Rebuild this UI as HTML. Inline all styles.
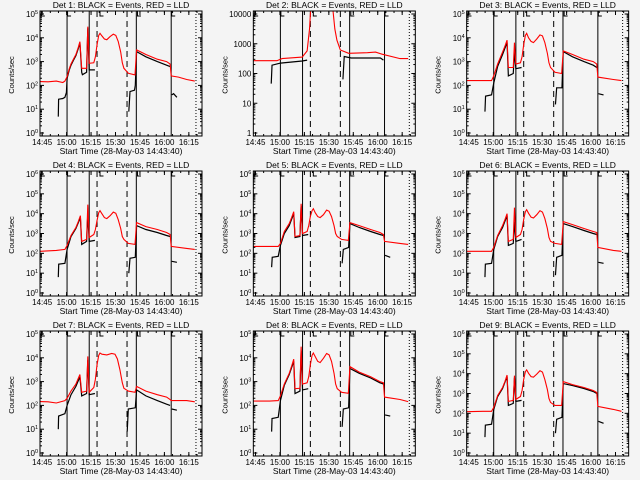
<!DOCTYPE html>
<html><head><meta charset="utf-8"><style>
html,body{margin:0;padding:0;background:#f4f4f4;}
svg{display:block;font-family:"Liberation Sans",sans-serif;}
</style></head><body>
<svg id="c" width="640" height="480" viewBox="0 0 640 480"></svg>
<script>
// time in minutes since 14:43:40, values as log10(counts/sec)
const xTickLabels = ["14:45","15:00","15:15","15:30","15:45","16:00","16:15"];
const xTickTimes = [1.33,16.33,31.33,46.33,61.33,76.33,91.33];
const solidLines = [16.6,30.2,59.1,80.5];
const dashedLines = [35.0,53.4];
const dottedLines = [95.7];
const flagTimes = [0.5,16.6,36.5,59.5,80.5];
const decades = [5,4,5,6,6,6,5,5,6];
const det1Red = [[0,2.16],[5,2.15],[10,2.18],[14,2.12],[15.3,2.18],[16.6,2.37],[18,2.7],[19,2.9],[20.5,3.1],[22,3.3],[23.5,3.6],[24.5,3.84],[25.6,2.72],[28.6,2.72],[29.3,4.47],[30.2,2.93],[33,2.95],[34,3.2],[35,3.7],[36,4.1],[36.8,4.19],[38,4.08],[39.5,3.95],[41,3.92],[43,4.05],[45,4.15],[46.5,4.1],[48,3.85],[49.5,3.4],[50.5,2.95],[51.5,2.72],[54.2,2.51],[58.3,2.44],[59.3,3.49],[65,3.3],[72,3.1],[77.7,3.0],[79.8,2.9],[80.5,2.4],[85,2.35],[90,2.25],[95,2.18]];
const det1Black = [[[11.2,0.69],[11.4,1.42],[14,1.45],[15.3,1.5],[16.2,1.7],[16.6,2.3],[18,2.65],[19,2.85],[20.5,3.05],[22,3.25],[23.5,3.55],[24.5,3.8],[25.6,2.55],[26,2.45],[28.6,2.55],[29.3,4.4],[30.2,2.65],[33.7,2.65]],[[54.5,0.9],[55.2,1.74],[58,1.8],[58.5,2.0],[59.3,3.42],[65,3.2],[72,3.0],[77.7,2.85],[79.8,2.79]],[[80.8,1.6],[82,1.65],[84,1.5]]];
const det2Red = [[0,2.43],[14.5,2.43],[17.6,2.5],[30,2.55],[33,2.76],[34.5,3.5],[35.2,4.2],[48.7,4.2],[50,3.5],[51.3,3.12],[53.4,2.79],[58.5,2.68],[70,2.7],[75,2.72],[79,2.65],[90,2.5],[95,2.5]];
const det2Black = [[[11,1.66],[11.5,2.28],[16.6,2.35],[30,2.42],[33,2.45]],[[55,1.8],[55.8,2.57],[60,2.52],[78,2.52],[79.8,2.45]]];
const det3Red = [[0,2.2],[10,2.2],[15.3,2.2],[16.6,2.4],[19,2.9],[22,3.4],[23.5,3.65],[24.8,3.9],[25.6,2.75],[28.6,2.75],[29.3,3.8],[30.2,2.9],[33,2.95],[34,3.2],[35,3.7],[36,4.1],[36.8,4.19],[38,4.0],[39.5,3.85],[41,3.8],[43,3.95],[45,4.12],[46.5,4.08],[48,3.8],[49.5,3.35],[50.5,2.95],[51.5,2.75],[54.2,2.55],[58.3,2.5],[59.3,3.45],[65,3.3],[72,3.1],[77.7,3.0],[79.8,2.9],[80.5,2.35],[90,2.25],[95,2.2]];
const det3Black = [[[11.2,0.9],[11.6,1.55],[15.3,1.6],[16.6,2.1],[19,2.8],[22,3.3],[24.8,3.8],[25.6,2.4],[28.6,2.5],[29.3,3.4],[30.2,2.7],[33.7,2.75]],[[54.5,1.2],[55.2,1.9],[58.5,1.9],[59.3,3.42],[65,3.2],[72,3.0],[77.7,2.85],[79.8,2.75]],[[80.8,1.65],[84,1.6]]];
const det4Red = [[0,2.1],[10,2.15],[15.3,2.2],[16.6,2.4],[19,2.9],[22,3.3],[23.5,3.6],[24.8,3.9],[25.6,2.6],[28.6,2.7],[29.3,4.45],[30.2,2.8],[33,2.95],[34,3.2],[35,3.65],[36,4.05],[36.8,4.15],[38,4.0],[39.5,3.8],[41,3.75],[43,3.9],[45,4.08],[46.5,4.02],[48,3.7],[49.5,3.25],[50.5,2.85],[51.5,2.7],[54.2,2.5],[58.3,2.45],[59.3,3.55],[65,3.35],[72,3.2],[77.7,3.05],[79.8,2.95],[80.5,2.35],[90,2.25],[95,2.2]];
const det4Black = [[[11.2,0.8],[11.5,1.45],[15.3,1.5],[16.6,2.2],[19,2.85],[22,3.25],[24.8,3.8],[25.6,2.45],[28.6,2.6],[29.3,4.0],[30.2,2.6],[33.7,2.65]],[[54.5,1.0],[55.2,1.75],[58.5,1.8],[59.3,3.4],[65,3.2],[72,3.05],[77.7,2.9],[79.8,2.85]],[[80.8,1.6],[84,1.55]]];
const det5Red = [[0,2.35],[10,2.35],[15.3,2.35],[16.6,2.5],[19,3.1],[22,3.5],[23.5,3.8],[24.8,4.1],[25.6,2.85],[28.6,2.9],[29.3,4.5],[30.2,3.0],[33,3.1],[34,3.4],[35,3.85],[36,4.15],[36.8,4.25],[38,4.05],[39.5,3.85],[41,3.8],[43,3.95],[45,4.18],[46.5,4.12],[48,3.85],[49.5,3.4],[50.5,3.0],[51.5,2.85],[54.2,2.7],[58.3,2.65],[59.3,3.55],[65,3.4],[72,3.2],[77.7,3.05],[79.8,2.95],[80.5,2.6],[90,2.5],[95,2.45]];
const det5Black = [[[11.2,1.3],[11.6,1.8],[15.3,1.85],[16.6,2.4],[19,3.0],[22,3.4],[24.8,4.0],[25.6,2.8],[28.6,2.85],[29.3,4.4],[30.2,2.9],[33.7,2.95]],[[54.5,1.5],[55.2,2.2],[58.5,2.3],[59.3,3.5],[65,3.3],[72,3.1],[77.7,2.95],[79.8,2.9]],[[80.8,1.9],[84,1.8]]];
const det6Red = [[0,2.1],[10,2.1],[15.3,2.1],[16.6,2.3],[19,2.9],[22,3.4],[23.5,3.7],[24.8,4.0],[25.6,2.6],[28.6,2.7],[29.3,4.3],[30.2,2.8],[33,2.95],[34,3.2],[35,3.7],[36,4.1],[36.8,4.2],[38,4.02],[39.5,3.82],[41,3.78],[43,3.95],[45,4.15],[46.5,4.08],[48,3.75],[49.5,3.25],[50.5,2.8],[51.5,2.6],[54.2,2.5],[58.3,2.45],[59.3,3.6],[65,3.45],[72,3.25],[77.7,3.1],[79.8,3.05],[80.5,2.3],[90,2.15],[95,2.1]];
const det6Black = [[[11.2,0.8],[11.5,1.45],[15.3,1.5],[16.6,2.2],[19,2.85],[22,3.3],[24.8,3.9],[25.6,2.4],[28.6,2.5],[29.3,3.6],[30.2,2.6],[33.7,2.7]],[[54.5,0.9],[55.2,1.8],[58.5,1.9],[59.3,3.5],[65,3.35],[72,3.15],[77.7,3.0],[79.8,2.95]],[[80.8,1.55],[84,1.5]]];
const det7Red = [[0,2.16],[5,2.15],[10,2.1],[15.3,2.2],[16.6,2.3],[19,2.6],[22,2.9],[24.5,3.3],[25.6,2.55],[28.6,2.6],[29.3,4.06],[30.2,2.55],[33,2.75],[34,3.1],[35,3.7],[36,4.1],[36.8,4.2],[38,4.15],[41,4.12],[44,4.18],[46,4.15],[47.5,3.95],[49,3.5],[50.5,2.95],[51.5,2.72],[54.2,2.6],[58.3,2.55],[59.3,2.8],[65,2.6],[72,2.45],[77.7,2.35],[79.8,2.25],[80.5,2.2],[90,2.2],[95,2.15]];
const det7Black = [[[11.2,1.0],[11.4,1.55],[15.3,1.65],[16.6,2.0],[19,2.45],[22,2.8],[24.5,3.2],[25.6,2.4],[28.6,2.5],[29.3,3.9],[30.2,2.45],[33.7,2.5]],[[53.5,0.9],[54.2,1.85],[58.5,1.9],[59.3,2.65],[65,2.4],[72,2.2],[77.7,2.05],[79.8,2.0]],[[80.8,1.85],[84,1.8]]];
const det8Red = [[0,2.18],[10,2.18],[15.3,2.2],[16.6,2.4],[19,2.9],[22,3.35],[23.5,3.65],[24.8,3.94],[25.6,2.7],[28.6,2.72],[29.3,4.47],[30.2,2.9],[33,2.95],[34,3.2],[35,3.7],[36,4.1],[36.8,4.2],[38,4.05],[39.5,3.85],[41,3.8],[43,3.98],[45,4.18],[46.5,4.12],[48,3.85],[49.5,3.35],[50.5,2.9],[51.5,2.7],[54.2,2.55],[58.3,2.51],[59.3,3.63],[65,3.4],[72,3.2],[77.7,3.0],[79.8,2.95],[80.5,2.35],[90,2.25],[95,2.16]];
const det8Black = [[[11.2,0.9],[11.5,1.45],[15.3,1.5],[16.6,2.2],[19,2.85],[22,3.3],[24.8,3.85],[25.6,2.5],[28.6,2.6],[29.3,4.3],[30.2,2.65],[33.7,2.7]],[[54.5,1.1],[55.2,1.85],[58.5,1.9],[59.3,3.55],[65,3.35],[72,3.15],[77.7,2.95],[79.8,2.9]],[[80.8,1.6],[84,1.55]]];
const det9Red = [[0,2.08],[10,2.1],[15.3,2.1],[16.6,2.3],[19,2.9],[22,3.3],[23.5,3.6],[24.8,3.93],[25.6,2.6],[28.6,2.65],[29.3,3.9],[30.2,2.7],[33,2.85],[34,3.15],[35,3.7],[36,4.1],[36.8,4.19],[38,4.02],[39.5,3.85],[41,3.82],[43,3.98],[45,4.15],[46.5,4.08],[48,3.7],[49.5,3.2],[50.5,2.75],[51.5,2.55],[54.2,2.4],[58.3,2.4],[59.3,3.6],[65,3.45],[72,3.3],[77.7,3.15],[79.8,3.05],[80.5,2.35],[90,2.2],[95,2.1]];
const det9Black = [[[11.2,0.8],[11.5,1.4],[15.3,1.45],[16.6,2.2],[19,2.85],[22,3.25],[24.8,3.85],[25.6,2.4],[28.6,2.5],[29.3,3.8],[30.2,2.6],[33.7,2.65]],[[54.5,1.0],[55.2,1.7],[58.5,1.8],[59.3,3.5],[65,3.4],[72,3.25],[77.7,3.1],[79.8,3.0]],[[80.8,1.6],[84,1.5]]];
const redSeries = [det1Red,det2Red,det3Red,det4Red,det5Red,det6Red,det7Red,det8Red,det9Red];
const blackSeries = [det1Black,det2Black,det3Black,det4Black,det5Black,det6Black,det7Black,det8Black,det9Black];

const NS="http://www.w3.org/2000/svg";
const svg=document.getElementById('c');
function mk(tag,attrs,parent){const e=document.createElementNS(NS,tag);for(const k in attrs)e.setAttribute(k,attrs[k]);parent.appendChild(e);return e;}
const L=40,R=202,T=11,B=136,Y0=133,Y1=14,TMAX=99.4;
function xs(t){return L+t*(R-L)/TMAX;}
for(let i=0;i<9;i++){
  const col=i%3,row=Math.floor(i/3);
  const g=mk('g',{transform:`translate(${(col*213.33).toFixed(2)},${row*160})`},svg);
  
  
  const D=decades[i];
  const ys=v=>Y0-v*(Y0-Y1)/D;
  const cp=mk('clipPath',{id:'cp'+i},g);mk('rect',{x:L,y:T,width:R-L,height:B-T},cp);
  solidLines.forEach(t=>{const l=mk('line',{x1:xs(t),x2:xs(t),y1:T,y2:B,stroke:'#000','stroke-width':1},g);});
  dashedLines.forEach(t=>{const l=mk('line',{x1:xs(t),x2:xs(t),y1:T,y2:B,stroke:'#000','stroke-width':1,'stroke-dasharray':'6,4'},g);});
  dottedLines.forEach(t=>{const l=mk('line',{x1:xs(t),x2:xs(t),y1:T,y2:B,stroke:'#000','stroke-width':1,'stroke-dasharray':'1,2'},g);});
  flagTimes.forEach(t=>{const x=xs(t);mk('path',{d:`M${x+4} ${T+5}H${x+0.5}V${T}`,fill:'none',stroke:'#000','stroke-width':1},g);});
  const clip=mk('g',{'clip-path':`url(#cp${i})`},g);
  blackSeries[i].forEach(seg=>{const p=mk('polyline',{points:seg.map(d=>xs(d[0]).toFixed(1)+','+ys(d[1]).toFixed(1)).join(' '),fill:'none',stroke:'#000','stroke-width':1.2},clip);});
  const rp=mk('polyline',{points:redSeries[i].map(d=>xs(d[0]).toFixed(1)+','+ys(d[1]).toFixed(1)).join(' '),fill:'none',stroke:'#ff0000','stroke-width':1.1},clip);
  
  mk('rect',{x:L,y:T,width:R-L,height:B-T,fill:'none',stroke:'#000','stroke-width':1},g);
  for(let m=-3.67;m<TMAX;m+=5){const x=xs(m);if(x<L)continue;mk('line',{x1:x,x2:x,y1:B,y2:B-2,stroke:'#000'},g);mk('line',{x1:x,x2:x,y1:T,y2:T+2,stroke:'#000'},g);}
  xTickTimes.forEach((t,k)=>{const x=xs(t);mk('line',{x1:x,x2:x,y1:B,y2:B-4,stroke:'#000'},g);mk('line',{x1:x,x2:x,y1:T,y2:T+4,stroke:'#000'},g);
    const tx=mk('text',{x:x,y:B+9,'font-size':8,'text-anchor':'middle',fill:'#000'},g);tx.textContent=xTickLabels[k];});
  for(let d=0;d<=D;d++){const y=ys(d);mk('line',{x1:L,x2:L+4,y1:y,y2:y,stroke:'#000'},g);mk('line',{x1:R,x2:R-4,y1:y,y2:y,stroke:'#000'},g);
    const tx=mk('text',{x:L-2,y:y+3,'font-size':8,'text-anchor':'end',fill:'#000'},g);
    
    if(i===1){tx.textContent=String(Math.pow(10,d));}
    else{tx.textContent='10';const s=mk('tspan',{dy:-3,'font-size':5.5},tx);s.textContent=String(d);}
    if(d<D)for(let m=2;m<10;m++){const yy=ys(d+Math.log10(m));mk('line',{x1:L,x2:L+2,y1:yy,y2:yy,stroke:'#000'},g);mk('line',{x1:R,x2:R-2,y1:yy,y2:yy,stroke:'#000'},g);}
  }
  const tt=mk('text',{x:121,y:8,'font-size':8.5,'text-anchor':'middle',fill:'#000'},g);
  tt.textContent=`Det ${i+1}: BLACK = Events, RED = LLD`;
  
  const xt=mk('text',{x:121,y:154,'font-size':8.5,'text-anchor':'middle',fill:'#000'},g);
  xt.textContent='Start Time (28-May-03 14:43:40)';
  
  const yt=mk('text',{x:0,y:0,'font-size':7.5,'text-anchor':'middle',fill:'#000',transform:'translate(14,75) rotate(-90)'},g);
  yt.textContent='Counts/sec';
  
}
</script>
</body></html>
